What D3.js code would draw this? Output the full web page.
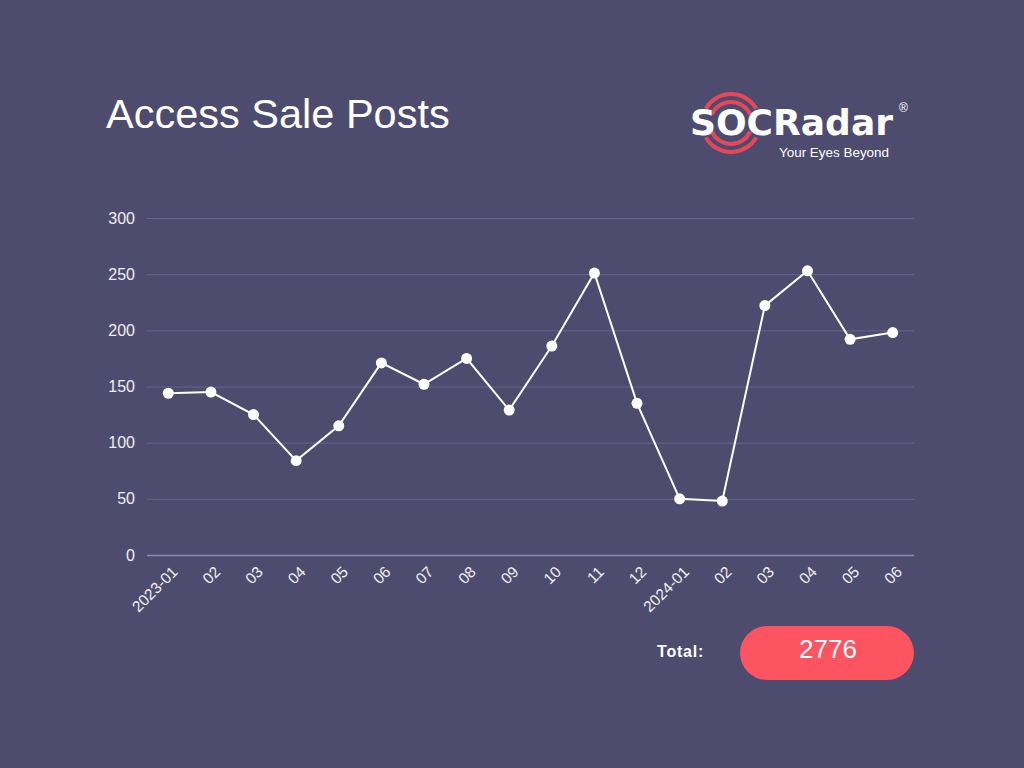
<!DOCTYPE html>
<html>
<head>
<meta charset="utf-8">
<script src="https://cdn.jsdelivr.net/npm/d3@7"></script>
<style>
  html, body { margin: 0; padding: 0; background: #4e4c6e; }
  svg { display: block; }
</style>
</head>
<body>
<svg id="chart" width="1024" height="768"></svg>
<script>
const months = ["2023-01","02","03","04","05","06","07","08","09","10","11","12","2024-01","02","03","04","05","06"];
const posts = [144,145,125,84,115,171,152,175,129,186,251,135,50,48,222,253,192,198];
const yTicks = [0,50,100,150,200,250,300];
const title = "Access Sale Posts";
const totalLabel = "Total:";
const totalValue = "2776";

const svg = d3.select("#chart");
const W = 1024, H = 768;
const FONT = "Liberation Sans, Arial, sans-serif";
svg.append("rect").attr("width", W).attr("height", H).attr("fill", "#4e4c6e");

const margin = {left: 147, right: 110, top: 218, bottom: 213};
const x = d3.scalePoint().domain(d3.range(months.length)).range([margin.left, W - margin.right]).padding(0.5);
const y = d3.scaleLinear().domain([0, 300]).range([H - margin.bottom, margin.top]);

// title
svg.append("text").attr("x", 106).attr("y", 128)
  .attr("fill", "#ffffff").attr("font-family", FONT)
  .attr("font-size", 41.5).text(title);

// gridlines
const yAxis = d3.axisLeft(y).tickValues(yTicks).tickSize(-(W - margin.left - margin.right)).tickPadding(12);
const gy = svg.append("g").attr("transform", `translate(${margin.left},0)`).call(yAxis);
gy.select(".domain").remove();
gy.selectAll(".tick line").attr("stroke", d => d === 0 ? "#8d8cb4" : "#65648a").attr("stroke-width", d => d === 0 ? 1.5 : 1);
gy.selectAll(".tick text").attr("fill", "#eeeef4").attr("font-size", 16)
  .attr("font-family", FONT);

// x axis labels
const xAxis = d3.axisBottom(x).tickSize(0).tickPadding(0).tickFormat(i => months[i]);
const gx = svg.append("g").attr("transform", `translate(0,${y(0)})`).call(xAxis);
gx.select(".domain").remove();
gx.selectAll(".tick text")
  .attr("fill", "#eeeef4").attr("font-size", 15.5)
  .attr("font-family", FONT)
  .attr("text-anchor", "end")
  .attr("dy", "0.35em")
  .attr("transform", "translate(6,14) rotate(-45)");

// line
const line = d3.line().x((d, i) => x(i)).y(d => y(d));
svg.append("path").datum(posts).attr("d", line)
  .attr("fill", "none").attr("stroke", "#ffffff").attr("stroke-width", 2);
svg.selectAll("circle.pt").data(posts).enter().append("circle").attr("class", "pt")
  .attr("cx", (d, i) => x(i)).attr("cy", d => y(d)).attr("r", 5.5).attr("fill", "#ffffff");

// logo
const logo = svg.append("g");
const cx = 731, cy = 123;
const arc = d3.arc();
[[21, 4, 1.15], [29, 4, 1.05]].forEach(([r, w, span]) => {
  [0, Math.PI].forEach(base => {
    logo.append("path")
      .attr("d", arc({innerRadius: r - w / 2, outerRadius: r + w / 2, startAngle: base - span, endAngle: base + span, cornerRadius: 2}))
      .attr("transform", `translate(${cx},${cy})`)
      .attr("fill", "#e8475a");
  });
});
logo.append("text").attr("x", 690).attr("y", 135)
  .attr("fill", "#ffffff").attr("font-family", "DejaVu Sans, sans-serif")
  .attr("font-weight", "bold").attr("font-size", 35)
  .attr("textLength", 203).attr("lengthAdjust", "spacingAndGlyphs").text("SOCRadar");
logo.append("text").attr("x", 899).attr("y", 112)
  .attr("fill", "#ffffff").attr("font-family", FONT)
  .attr("font-size", 12).text("®");
logo.append("text").attr("x", 779).attr("y", 157)
  .attr("fill", "#ffffff").attr("font-family", FONT)
  .attr("font-size", 13).attr("textLength", 110).attr("lengthAdjust", "spacingAndGlyphs").text("Your Eyes Beyond");

// total
svg.append("text").attr("x", 657).attr("y", 657)
  .attr("fill", "#ffffff").attr("font-family", FONT)
  .attr("font-weight", "bold").attr("font-size", 16).attr("letter-spacing", 0.8).text(totalLabel);
svg.append("rect").attr("x", 740).attr("y", 626).attr("width", 174).attr("height", 54)
  .attr("rx", 27).attr("fill", "#fc5461");
svg.append("text").attr("x", 828).attr("y", 658).attr("text-anchor", "middle")
  .attr("fill", "#ffffff").attr("font-family", FONT)
  .attr("font-size", 26).text(totalValue);
</script>
</body>
</html>
